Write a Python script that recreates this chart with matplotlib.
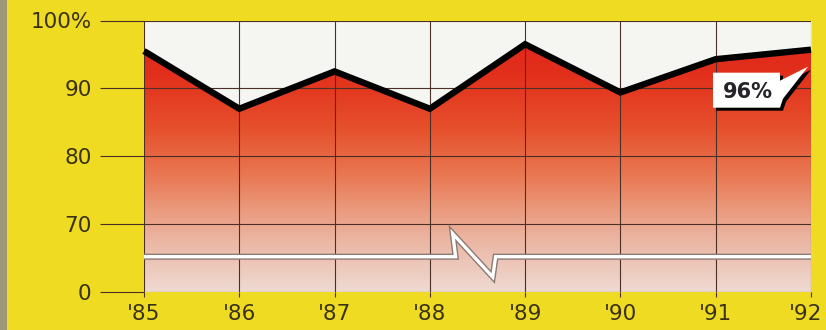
import matplotlib
matplotlib.use("Agg")
import matplotlib.pyplot as plt
import matplotlib.transforms as mtransforms
import numpy as np
from matplotlib.colors import LinearSegmentedColormap
from matplotlib.patches import Polygon, Rectangle

# data
years = ["'85", "'86", "'87", "'88", "'89", "'90", "'91", "'92"]
rates = [95.5, 87.0, 92.5, 87.0, 96.5, 89.4, 94.3, 95.7]
ytick_vals = [60, 70, 80, 90, 100]
ytick_labels = ["0", "70", "80", "90", "100%"]
last_label = "96%"

BG = "#efdb22"
GRID = "#4a3026"
TXT = "#3a3216"

W, H = 826, 330
fig = plt.figure(figsize=(W / 100, H / 100), dpi=100)
fig.patch.set_facecolor(BG)
# grey strip on the left edge
fig.add_artist(Rectangle((0, 0), 7 / W, 1, transform=fig.transFigure,
                         facecolor="#9a9878", edgecolor="none"))

ax = fig.add_axes([144 / W, (H - 292) / H, 667 / W, (292 - 20.5) / H])
x = np.arange(len(years))
ax.set_xlim(0, len(years) - 1)
ax.set_ylim(60, 100)

# gradient under the line
cmap = LinearSegmentedColormap.from_list("fade", [
    (0.0, "#efdad2"), (0.2, "#ebb4a0"), (0.42, "#e97a55"),
    (0.6, "#e6502c"), (0.8, "#e2301c"), (1.0, "#e0221a")])
grad = np.linspace(0, 1, 256).reshape(-1, 1)
im = ax.imshow(grad, cmap=cmap, extent=[0, len(years) - 1, 60, 100],
               origin="lower", aspect="auto", zorder=0)
verts = [(0, 60)] + list(zip(x, rates)) + [(len(years) - 1, 60)]
clip = Polygon(verts, closed=True, facecolor="none", edgecolor="none")
ax.add_patch(clip)
im.set_clip_path(clip)

ax.fill_between(x, rates, 100, color="#f5f5f2", zorder=1, linewidth=0)

ax.set_axisbelow(False)
ax.grid(True, color=GRID, linewidth=0.8, zorder=2.5)
for s in ax.spines.values():
    s.set_visible(False)

ax.plot(x, rates, color="black", linewidth=4.6, zorder=3,
        solid_joinstyle="miter", solid_capstyle="butt", clip_on=False)

# axis break strip
bx = [0, 3.27, 3.24, 3.66, 3.69, len(years) - 1]
by = [65.2, 65.2, 68.6, 62.2, 65.2, 65.2]
ax.plot(bx, by, color="#8a7a74", linewidth=4.4, zorder=4,
        solid_joinstyle="miter", solid_capstyle="butt")
ax.plot(bx, by, color="white", linewidth=2.4, zorder=4.1,
        solid_joinstyle="miter", solid_capstyle="butt")

ax.set_yticks(ytick_vals)
ax.set_yticklabels(ytick_labels)
ax.set_xticks(x)
ax.set_xticklabels(years)
ax.tick_params(axis="y", length=31.7, width=0.8, color=GRID, pad=6,
               labelsize=15.5, labelcolor=TXT)
ax.tick_params(axis="x", length=3.6, width=0.8, color=GRID, pad=5,
               labelsize=15.5, labelcolor=TXT)
# last year label sits against the right edge
last = ax.get_xticklabels()[-1]
last.set_transform(last.get_transform() +
                   mtransforms.ScaledTranslation(-5 / 100, 0, fig.dpi_scale_trans))

# callout with the last value, placed relative to the last point
px_x = 667 / (len(years) - 1)
px_y = (292 - 20.5) / 40.0
lx, ly = x[-1], rates[-1]
shape = [(-98, -23), (-31, -23), (-31, -31), (-3, -17),
         (-28, -49), (-31, -58), (-98, -58)]
def to_data(pts, dx=0, dy=0):
    return [(lx + (a + dx) / px_x, ly + (b - dy) / px_y) for a, b in pts]
ax.add_patch(Polygon(to_data(shape, 3, 3), closed=True, facecolor="black",
                     edgecolor="none", zorder=5, clip_on=False))
ax.add_patch(Polygon(to_data(shape), closed=True, facecolor="white",
                     edgecolor="none", zorder=5.1, clip_on=False))
ax.text(lx - 63 / px_x, ly - 42 / px_y, last_label, ha="center", va="center",
        fontsize=15, fontweight="bold", color="#26222a", zorder=6)

fig.savefig("out.png", dpi=100, facecolor=BG)
